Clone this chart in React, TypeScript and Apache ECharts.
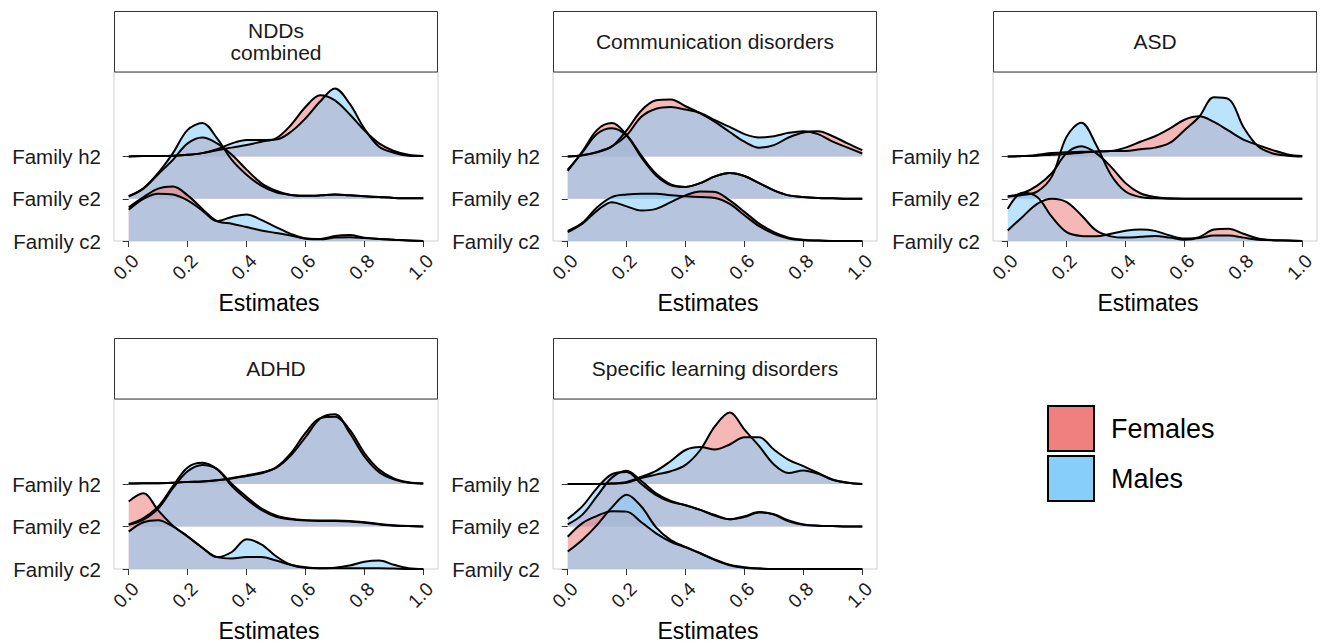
import React, { useEffect, useRef } from "react";
import * as echarts from "echarts";

// ---------- data ----------
const X_GRID = [0, 0.05, 0.1, 0.15, 0.2, 0.25, 0.3, 0.35, 0.4, 0.45, 0.5, 0.55, 0.6, 0.65, 0.7, 0.75, 0.8, 0.85, 0.9, 0.95, 1.0];
const X_TICKS = [0, 0.2, 0.4, 0.6, 0.8, 1.0];
const ROW_LABELS = ["Family c2", "Family e2", "Family h2"];
const SEXES = ["Females", "Males"];
const PANEL_TITLES = ["NDDs\ncombined", "Communication disorders", "ASD", "ADHD", "Specific learning disorders"];

// ridge heights (in row units) at X_GRID
const nddsH2F = [0, 0.01, 0.01, 0.02, 0.04, 0.08, 0.15, 0.21, 0.27, 0.35, 0.43, 0.74, 1.17, 1.45, 1.33, 1.0, 0.62, 0.31, 0.13, 0.04, 0.01];
const nddsH2M = [0, 0.01, 0.01, 0.02, 0.04, 0.08, 0.17, 0.31, 0.39, 0.39, 0.4, 0.58, 0.9, 1.3, 1.61, 1.25, 0.66, 0.23, 0.09, 0.02, 0.01];
const nddsE2F = [0.06, 0.24, 0.58, 0.92, 1.31, 1.45, 1.31, 1.04, 0.69, 0.37, 0.19, 0.09, 0.07, 0.08, 0.1, 0.08, 0.06, 0.04, 0.02, 0.01, 0.01];
const nddsE2M = [0.06, 0.25, 0.61, 1.08, 1.63, 1.79, 1.43, 0.92, 0.57, 0.31, 0.15, 0.09, 0.07, 0.08, 0.1, 0.08, 0.06, 0.04, 0.02, 0.01, 0.01];
const nddsC2F = [0.8, 1.04, 1.24, 1.29, 1.08, 0.76, 0.47, 0.41, 0.33, 0.25, 0.19, 0.13, 0.06, 0.05, 0.12, 0.14, 0.08, 0.05, 0.03, 0.01, 0];
const nddsC2M = [0.74, 1.0, 1.12, 1.1, 0.96, 0.72, 0.47, 0.57, 0.63, 0.5, 0.33, 0.17, 0.06, 0.04, 0.08, 0.09, 0.07, 0.05, 0.03, 0.01, 0];

const commH2F = [0, 0.03, 0.1, 0.24, 0.62, 1.09, 1.33, 1.35, 1.19, 1.02, 0.82, 0.58, 0.35, 0.21, 0.27, 0.45, 0.57, 0.6, 0.48, 0.31, 0.15];
const commH2M = [0, 0.03, 0.11, 0.24, 0.5, 0.94, 1.13, 1.17, 1.11, 1.03, 0.86, 0.7, 0.53, 0.45, 0.48, 0.56, 0.6, 0.53, 0.35, 0.21, 0.07];
const commE2F = [0.66, 1.12, 1.63, 1.79, 1.51, 1.02, 0.59, 0.34, 0.28, 0.37, 0.53, 0.61, 0.54, 0.37, 0.2, 0.08, 0.04, 0.02, 0.01, 0, 0];
const commE2M = [0.69, 1.1, 1.54, 1.67, 1.49, 0.98, 0.55, 0.32, 0.28, 0.37, 0.53, 0.61, 0.54, 0.37, 0.2, 0.08, 0.04, 0.02, 0.01, 0, 0];
const commC2F = [0.21, 0.41, 0.72, 0.92, 0.82, 0.72, 0.76, 0.92, 1.08, 1.17, 1.16, 0.96, 0.69, 0.41, 0.21, 0.08, 0.03, 0.01, 0, 0, 0];
const commC2M = [0.24, 0.43, 0.8, 1.04, 1.1, 1.12, 1.12, 1.08, 1.06, 1.04, 1.02, 0.88, 0.61, 0.35, 0.17, 0.06, 0.02, 0.01, 0, 0, 0];

const asdH2F = [0, 0.01, 0.04, 0.08, 0.1, 0.11, 0.12, 0.13, 0.21, 0.35, 0.48, 0.66, 0.87, 0.95, 0.82, 0.61, 0.4, 0.27, 0.15, 0.05, 0.01];
const asdH2M = [0, 0.01, 0.02, 0.04, 0.06, 0.09, 0.11, 0.13, 0.13, 0.17, 0.21, 0.32, 0.62, 0.94, 1.4, 1.36, 0.7, 0.24, 0.07, 0.02, 0];
const asdE2F = [0.06, 0.13, 0.31, 0.61, 1.08, 1.24, 1.08, 0.76, 0.37, 0.13, 0.04, 0.01, 0, 0, 0, 0, 0, 0, 0, 0, 0];
const asdE2M = [0.05, 0.09, 0.17, 0.53, 1.47, 1.8, 1.28, 0.57, 0.17, 0.04, 0.01, 0, 0, 0, 0, 0, 0, 0, 0, 0, 0];
const asdC2F = [0.25, 0.57, 0.88, 1.0, 0.92, 0.61, 0.25, 0.11, 0.08, 0.1, 0.12, 0.08, 0.03, 0.09, 0.27, 0.29, 0.17, 0.06, 0.02, 0.01, 0];
const asdC2M = [0.76, 1.14, 1.04, 0.57, 0.21, 0.12, 0.11, 0.17, 0.24, 0.27, 0.24, 0.13, 0.06, 0.07, 0.13, 0.13, 0.08, 0.03, 0.02, 0.01, 0];

const adhdH2F = [0.01, 0.02, 0.02, 0.03, 0.05, 0.06, 0.09, 0.13, 0.19, 0.25, 0.39, 0.72, 1.2, 1.55, 1.58, 1.28, 0.73, 0.34, 0.13, 0.04, 0.01];
const adhdH2M = [0.01, 0.02, 0.02, 0.03, 0.05, 0.06, 0.09, 0.14, 0.2, 0.27, 0.38, 0.67, 1.1, 1.54, 1.64, 1.2, 0.65, 0.28, 0.11, 0.03, 0.01];
const adhdE2F = [0.04, 0.16, 0.42, 0.9, 1.3, 1.45, 1.35, 1.0, 0.7, 0.43, 0.26, 0.18, 0.15, 0.14, 0.14, 0.13, 0.1, 0.06, 0.03, 0.01, 0];
const adhdE2M = [0.05, 0.2, 0.47, 0.95, 1.39, 1.5, 1.35, 0.95, 0.64, 0.39, 0.23, 0.17, 0.14, 0.13, 0.13, 0.12, 0.09, 0.05, 0.02, 0.01, 0];
const adhdC2F = [1.59, 1.78, 1.38, 1.02, 0.77, 0.5, 0.28, 0.25, 0.28, 0.28, 0.2, 0.1, 0.04, 0.02, 0.02, 0.02, 0.02, 0.02, 0.01, 0, 0];
const adhdC2M = [0.88, 1.1, 1.15, 1.0, 0.76, 0.5, 0.28, 0.4, 0.7, 0.58, 0.3, 0.1, 0.03, 0.02, 0.03, 0.08, 0.17, 0.2, 0.1, 0.02, 0];

const sldH2F = [0, 0, 0, 0.01, 0.03, 0.14, 0.22, 0.3, 0.45, 0.8, 1.36, 1.68, 1.28, 0.89, 0.46, 0.26, 0.32, 0.24, 0.1, 0.03, 0];
const sldH2M = [0, 0, 0, 0.01, 0.05, 0.17, 0.31, 0.54, 0.8, 0.87, 0.81, 0.93, 1.1, 1.1, 0.81, 0.57, 0.42, 0.26, 0.1, 0.03, 0];
const sldE2F = [0.05, 0.28, 0.72, 1.15, 1.31, 1.07, 0.78, 0.6, 0.5, 0.39, 0.27, 0.17, 0.22, 0.33, 0.29, 0.14, 0.05, 0.02, 0.01, 0, 0];
const sldE2M = [0.18, 0.48, 0.91, 1.23, 1.28, 1.0, 0.74, 0.58, 0.5, 0.39, 0.25, 0.17, 0.24, 0.34, 0.28, 0.12, 0.04, 0.02, 0.01, 0, 0];
const sldC2F = [0.76, 1.08, 1.25, 1.36, 1.35, 1.1, 0.84, 0.64, 0.51, 0.37, 0.22, 0.1, 0.04, 0.01, 0, 0, 0, 0, 0, 0, 0];
const sldC2M = [0.41, 0.69, 1.04, 1.45, 1.75, 1.47, 0.98, 0.68, 0.52, 0.37, 0.21, 0.09, 0.03, 0.01, 0, 0, 0, 0, 0, 0, 0];

// panel -> rows (top to bottom: h2, e2, c2) -> [Females, Males]
const PANEL_DATA = [
  [[nddsH2F, nddsH2M], [nddsE2F, nddsE2M], [nddsC2F, nddsC2M]],
  [[commH2F, commH2M], [commE2F, commE2M], [commC2F, commC2M]],
  [[asdH2F, asdH2M], [asdE2F, asdE2M], [asdC2F, asdC2M]],
  [[adhdH2F, adhdH2M], [adhdE2F, adhdE2M], [adhdC2F, adhdC2M]],
  [[sldH2F, sldH2M], [sldE2F, sldE2M], [sldC2F, sldC2M]],
];
const ROW_BASES = [3, 2, 1];

// ---------- styling ----------
const FONT = '"Liberation Sans", Arial, Helvetica, sans-serif';
const SEX_COLORS = ["#F08080", "#87CEFA"];
const SEX_FILLS = ["rgba(240,128,128,0.57)", "rgba(135,206,250,0.57)"];
const PANEL_BOXES = [
  { left: 114, top: 72, height: 169 },
  { left: 553, top: 72, height: 169 },
  { left: 993, top: 72, height: 169 },
  { left: 114, top: 399, height: 170 },
  { left: 553, top: 399, height: 170 },
];
const PANEL_WIDTH = 324;
const STRIP_HEIGHT = 61;

function buildOption() {
  const grid: any[] = [];
  const xAxis: any[] = [];
  const yAxis: any[] = [];
  const series: any[] = [];
  const graphic: any[] = [];

  PANEL_BOXES.forEach((b, p) => {
    grid.push({
      left: b.left,
      top: b.top,
      width: PANEL_WIDTH,
      height: b.height,
      show: true,
      borderColor: "#cfcfcf",
      borderWidth: 1,
      backgroundColor: "transparent",
      containLabel: false,
      outerBoundsMode: "none",
    });
    xAxis.push({
      type: "value",
      gridIndex: p,
      min: -0.05,
      max: 1.05,
      splitLine: { show: false },
      axisLine: { show: false },
      axisTick: { show: true, length: 6, lineStyle: { color: "#333", width: 1 }, customValues: X_TICKS },
      axisLabel: {
        customValues: X_TICKS,
        formatter: (v: number) => v.toFixed(1),
        rotate: 45,
        fontSize: 19,
        color: "#1a1a1a",
        fontFamily: FONT,
        margin: 10,
        verticalAlign: "top",
      },
      name: "Estimates",
      nameLocation: "middle",
      nameGap: 50,
      nameTextStyle: { fontSize: 23, color: "#000", fontFamily: FONT, padding: [0, 14, 0, 0] },
    });
    yAxis.push({
      type: "value",
      gridIndex: p,
      min: 1,
      max: 5,
      splitLine: { show: false },
      axisLine: { show: false },
      axisTick: { show: true, length: 6, lineStyle: { color: "#333", width: 1 }, customValues: [1, 2, 3] },
      axisLabel: {
        customValues: [1, 2, 3],
        formatter: (v: number) => ROW_LABELS[Math.round(v) - 1] || "",
        fontSize: 20.5,
        color: "#1a1a1a",
        fontFamily: FONT,
        margin: 13,
      },
    });

    PANEL_DATA[p].forEach((row, r) => {
      const base = ROW_BASES[r];
      row.forEach((vals, s) => {
        series.push({
          type: "line",
          name: SEXES[s],
          xAxisIndex: p,
          yAxisIndex: p,
          data: X_GRID.map((x, i) => [x, base + vals[i]]),
          smooth: 0.35,
          symbol: "none",
          silent: true,
          lineStyle: { color: "#000", width: 2 },
          itemStyle: { color: SEX_COLORS[s] },
          areaStyle: { color: SEX_FILLS[s], opacity: 1, origin: base },
        });
      });
    });

    // facet strip
    const stripTop = b.top - STRIP_HEIGHT;
    graphic.push({
      type: "rect",
      shape: { x: b.left + 0.5, y: stripTop + 0.5, width: PANEL_WIDTH - 1, height: STRIP_HEIGHT - 0.5 },
      style: { fill: "#fff", stroke: "#333", lineWidth: 1 },
      silent: true,
    });
    graphic.push({
      type: "text",
      x: b.left + PANEL_WIDTH / 2,
      y: stripTop + STRIP_HEIGHT / 2,
      style: {
        text: PANEL_TITLES[p],
        textAlign: "center",
        textVerticalAlign: "middle",
        fontSize: 21,
        lineHeight: 22,
        fontFamily: FONT,
        fill: "#1a1a1a",
      },
      silent: true,
    });
  });

  return {
    animation: false,
    backgroundColor: "#fff",
    grid,
    xAxis,
    yAxis,
    series,
    graphic,
    legend: {
      orient: "vertical",
      left: 1047,
      top: 405,
      padding: 0,
      itemWidth: 46,
      itemHeight: 45,
      itemGap: 3,
      icon: "rect",
      selectedMode: false,
      textStyle: { fontSize: 27, color: "#000", fontFamily: FONT, padding: [0, 0, 0, 12] },
      data: SEXES.map((name, s) => ({
        name,
        itemStyle: { color: SEX_COLORS[s], borderColor: "#000", borderWidth: 2 },
      })),
    },
  };
}

export default function App() {
  const ref = useRef<HTMLDivElement>(null);
  useEffect(() => {
    if (!ref.current) return;
    const chart = echarts.init(ref.current, null, { renderer: "svg" });
    chart.setOption(buildOption() as any);
    return () => chart.dispose();
  }, []);
  return (
    <div
      ref={ref}
      style={{ position: "fixed", left: 0, top: 0, width: 1322, height: 643, background: "#fff" }}
    />
  );
}
